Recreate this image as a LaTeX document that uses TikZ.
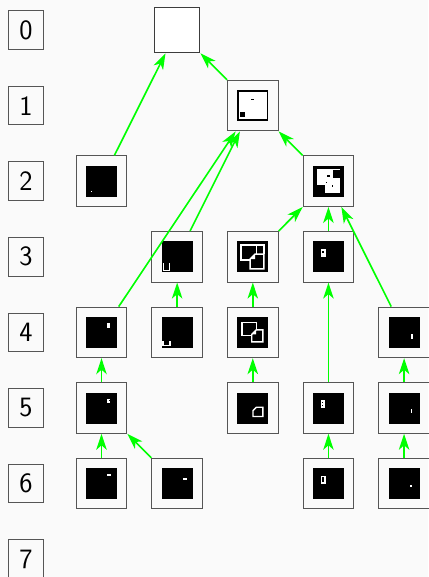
\documentclass[tikz,border=0pt]{standalone}
\usepackage{fontspec}
\usetikzlibrary{arrows.meta}
\definecolor{bg}{HTML}{FAFAFA}
\definecolor{fr}{HTML}{555555}
\definecolor{gr}{HTML}{00FF00}
\tikzset{
  frame/.style={draw=fr, line width=1.1pt, minimum size=50.5pt, inner sep=0pt},
  rootbox/.style={draw=fr!70!black, line width=1.1pt, fill=white, minimum size=45.5pt, inner sep=0pt},
  lbl/.style={draw=fr, line width=1.1pt, minimum width=35pt, minimum height=38.6pt, inner sep=0pt, font=\fontsize{28}{28}\selectfont\sffamily},
  edge/.style={draw=gr, line width=1.6pt, -{Stealth[length=16pt, width=10.5pt, inset=4.5pt]}},
  wl/.style={draw=white, line width=1.4pt}
}
\newcommand{\imgat}[3]{\begin{scope}[shift={(#1-15.5,#2-15.5)}]\fill[black] (0,0) rectangle (31,31); #3\end{scope}}
\begin{document}
\begin{tikzpicture}[x=1pt,y=-1pt]
\fill[bg] (0,0) rectangle (428,577);
\useasboundingbox (0,0) rectangle (428,577);
% row labels
\foreach \r in {0,...,7} {
  \node[lbl] (lab\r) at (26,{30+75.6*\r}) {\r};
}
% nodes
\node[rootbox] (r0) at (177.15,30) {};
\node[frame] (r1c2) at (252.8,105.6) {};
\node[frame] (r2c0) at (101.5,181.2) {};
\node[frame] (r2c3) at (328.45,181.2) {};
\node[frame] (r3c1) at (177.15,256.8) {};
\node[frame] (r3c2) at (252.8,256.8) {};
\node[frame] (r3c3) at (328.45,256.8) {};
\node[frame] (r4c0) at (101.5,332.4) {};
\node[frame] (r4c1) at (177.15,332.4) {};
\node[frame] (r4c2) at (252.8,332.4) {};
\node[frame] (r4c4) at (404.1,332.4) {};
\node[frame] (r5c0) at (101.5,408) {};
\node[frame] (r5c2) at (252.8,408) {};
\node[frame] (r5c3) at (328.45,408) {};
\node[frame] (r5c4) at (404.1,408) {};
\node[frame] (r6c0) at (101.5,483.6) {};
\node[frame] (r6c1) at (177.15,483.6) {};
\node[frame] (r6c3) at (328.45,483.6) {};
\node[frame] (r6c4) at (404.1,483.6) {};
% images
\imgat{252.8}{105.6}{\fill[white] (1.7,1.7) rectangle (29.3,29.3);
  \fill[black] (2.7,22.3) rectangle (7.3,27);
  \fill[black] (13.7,9) rectangle (16.3,10.3);}
\imgat{101.5}{181.2}{\fill[white] (5,25.3) rectangle (6.3,26.6);}
\imgat{328.45}{181.2}{\fill[white] (3.7,3.7) rectangle (27.3,27.3);
  \fill[black] (0,19.7) rectangle (12.3,31);
  \fill[black] (20,4.7) rectangle (26.7,12.7);
  \fill[black] (13.7,9) rectangle (16.7,11.7);
  \fill[black] (13,16.3) rectangle (14.3,17.7);
  \fill[black] (18.7,19.3) rectangle (20,21);}
\imgat{177.15}{256.8}{\fill[white] (1,21.3) rectangle (2.3,30);
  \fill[white] (7,21.3) rectangle (8.3,30);
  \fill[white] (1,28.7) rectangle (8.3,30);}
\imgat{252.8}{256.8}{\draw[wl] (3.5,3.5) rectangle (19,18.5);
  \draw[wl] (19,3.5) -- (26.5,3.5) -- (26.5,12.5);
  \filldraw[wl, fill=black] (17.8,12.8) -- (26.5,12.8) -- (26.5,27.5) -- (12.8,27.5) -- (12.8,17.8) -- cycle;
  \fill[white] (17.8,12.8) -- (12.8,17.8) -- (17.8,17.8) -- cycle;}
\imgat{328.45}{256.8}{\fill[white] (7.7,8) rectangle (12.7,15.7);
  \fill[black] (9.3,9.7) rectangle (11,11.7);}
\imgat{101.5}{332.4}{\fill[white] (21.3,5.7) rectangle (24.3,10.7);}
\imgat{177.15}{332.4}{\fill[white] (0.7,24.3) rectangle (2,29);
  \fill[white] (7.7,24.3) rectangle (9,29);
  \fill[white] (0.7,27.7) rectangle (9,29);}
\imgat{252.8}{332.4}{\draw[wl] (4.7,5.4) rectangle (19,18.3);
  \filldraw[wl, fill=black] (18.9,13) -- (25.6,13) -- (25.6,25) -- (14.4,25) -- (14.4,17.5) -- cycle;
  \fill[white] (18.9,13) -- (14.4,17.5) -- (18.9,17.5) -- cycle;}
\imgat{404.1}{332.4}{\fill[white] (22.3,17) rectangle (24,22);}
\imgat{101.5}{408}{\fill[white] (21.3,6) rectangle (24.3,10.3);
  \fill[black] (22.7,7.5) rectangle (24.3,8.8);}
\imgat{252.8}{408}{\draw[wl] (19.2,14.7) -- (25.6,14.7) -- (25.6,24) -- (15.7,24) -- (15.7,18.2) -- cycle;}
\imgat{328.45}{408}{\fill[white] (7.7,7.7) rectangle (12,15);
  \fill[black] (9.3,9) rectangle (10.5,10.5);
  \fill[black] (9.3,12) rectangle (10.5,13.5);}
\imgat{404.1}{408}{\fill[white] (22,16.7) rectangle (23.7,20);}
\imgat{101.5}{483.6}{\fill[white] (21.3,6.3) rectangle (25,8);}
\imgat{177.15}{483.6}{\fill[white] (21,9.7) rectangle (25,11.7);}
\imgat{328.45}{483.6}{\fill[white] (7.7,7.7) rectangle (12.7,16);
  \fill[black] (9.3,9.3) rectangle (11,14.3);}
\imgat{404.1}{483.6}{\fill[white] (21.7,17.3) rectangle (23.3,19);}
% edges
\draw[edge] (r2c0) -- (r0);
\draw[edge] (r1c2) -- (r0);
\draw[edge] (r4c0) -- (r1c2);
\draw[edge] (r3c1) -- (r1c2);
\draw[edge] (r2c3) -- (r1c2);
\draw[edge] (r3c2) -- (r2c3);
\draw[edge] (r3c3) -- (r2c3);
\draw[edge] (r4c4) -- (r2c3);
\draw[edge] (r4c1) -- (r3c1);
\draw[edge] (r4c2) -- (r3c2);
\draw[edge] (r5c3) -- (r3c3);
\draw[edge] (r5c0) -- (r4c0);
\draw[edge] (r5c2) -- (r4c2);
\draw[edge] (r5c4) -- (r4c4);
\draw[edge] (r6c0) -- (r5c0);
\draw[edge] (r6c1) -- (r5c0);
\draw[edge] (r6c3) -- (r5c3);
\draw[edge] (r6c4) -- (r5c4);
\end{tikzpicture}
\end{document}
